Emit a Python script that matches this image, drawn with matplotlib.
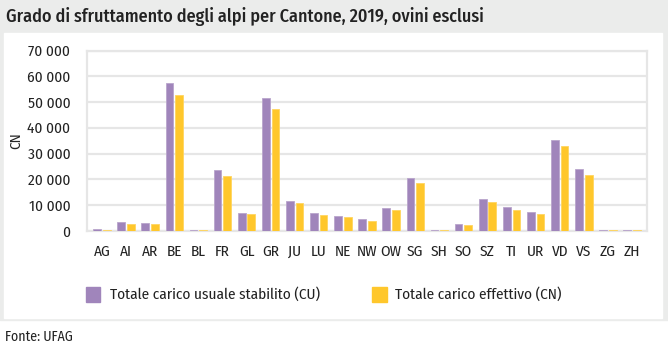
import matplotlib.pyplot as plt
import matplotlib.patches as mpatches
from matplotlib.ticker import FuncFormatter
import numpy as np

plt.rcParams['font.family'] = ['Fira Sans Condensed', 'Roboto Condensed', 'Asap Condensed', 'Lato', 'DejaVu Sans']

# Dati
cantoni = ['AG', 'AI', 'AR', 'BE', 'BL', 'FR', 'GL', 'GR', 'JU', 'LU', 'NE', 'NW',
           'OW', 'SG', 'SH', 'SO', 'SZ', 'TI', 'UR', 'VD', 'VS', 'ZG', 'ZH']
carico_usuale = [600, 3500, 3000, 57400, 500, 23600, 7100, 51700, 11500, 6900, 5700, 4500,
                 8800, 20500, 400, 2700, 12600, 9300, 7300, 35300, 24200, 400, 400]
carico_effettivo = [500, 2900, 2700, 52600, 400, 21500, 6500, 47200, 10800, 6200, 5300, 4000,
                    8300, 18700, 300, 2200, 11300, 8300, 6500, 32800, 21700, 350, 350]

viola = '#a085bb'
giallo = '#ffc72c'
testo = '#222222'
grigio_sfondo = '#ebeceb'
griglia = '#e6e6e6'

fig = plt.figure(figsize=(6.68, 3.5), dpi=100)
fig.patch.set_facecolor('white')

# fascia grigia e pannello bianco
fig.patches.append(mpatches.Rectangle((0, 1 - 320 / 350), 1, 320 / 350,
                                      transform=fig.transFigure, color=grigio_sfondo, zorder=-2))
fig.patches.append(mpatches.Rectangle((4 / 668, 1 - 318 / 350), 658 / 668, 285 / 350,
                                      transform=fig.transFigure, color='white', zorder=-1))

fig.text(6 / 668, 1 - 16 / 350, 'Grado di sfruttamento degli alpi per Cantone, 2019, ovini esclusi',
         fontsize=13, color=testo, va='center', ha='left', fontweight='medium')
fig.text(5 / 668, 1 - 337 / 350, 'Fonte: UFAG', fontsize=10, color=testo, va='center', ha='left')

ax = fig.add_axes([87 / 668, 1 - 231 / 350, 560 / 668, 180.5 / 350])
ax.set_facecolor('none')

x = np.arange(len(cantoni))
w = 0.32
ax.bar(x - 0.2, carico_usuale, w, color=viola, edgecolor='#b9a5cc', linewidth=0.6, zorder=3)
ax.bar(x + 0.2, carico_effettivo, w, color=giallo, edgecolor='#ffd560', linewidth=0.6, zorder=3)

ax.set_xlim(-0.62, len(cantoni) - 0.38)
ax.set_ylim(0, 70000)
ax.set_yticks(np.arange(0, 70001, 10000))
ax.yaxis.set_major_formatter(FuncFormatter(lambda v, p: f'{int(v):,}'.replace(',', ' ')))
ax.set_xticks(x)
ax.set_xticklabels(cantoni)
ax.tick_params(axis='both', length=0, labelsize=11, colors=testo)
ax.tick_params(axis='x', pad=10)
ax.tick_params(axis='y', pad=12)
ax.grid(axis='y', color=griglia, linewidth=1.6, zorder=0)
for s in ax.spines.values():
    s.set_color(griglia)
    s.set_linewidth(1.6)
ax.set_ylabel('CN', fontsize=11, color=testo)
ax.yaxis.set_label_coords(-64 / 560, 0.5)

# legenda
fig.patches.append(mpatches.Rectangle((86 / 668, 1 - 302 / 350), 14 / 668, 15 / 350,
                                      transform=fig.transFigure, color=viola))
fig.text(110 / 668, 1 - 294.5 / 350, 'Totale carico usuale stabilito (CU)', fontsize=11,
         color=testo, va='center', ha='left')
fig.patches.append(mpatches.Rectangle((372 / 668, 1 - 302 / 350), 15 / 668, 15 / 350,
                                      transform=fig.transFigure, color=giallo))
fig.text(395 / 668, 1 - 294.5 / 350, 'Totale carico effettivo (CN)', fontsize=11,
         color=testo, va='center', ha='left')

fig.savefig('out.png', dpi=100)
